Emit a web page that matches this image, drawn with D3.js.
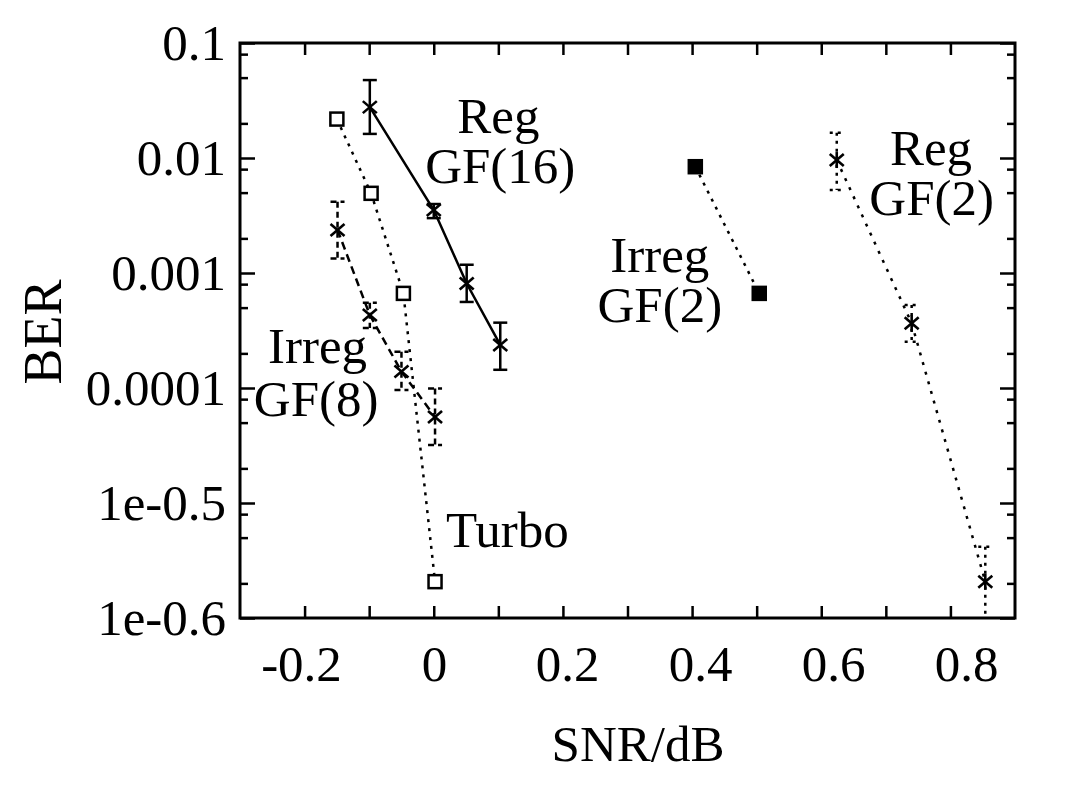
<!DOCTYPE html>
<html>
<head>
<meta charset="utf-8"/>
<title>BER vs SNR</title>
<script src="https://cdn.jsdelivr.net/npm/d3@7"></script>
<style>
body { margin: 0; background: #fff; }
text { font-family: "Liberation Serif", "Times New Roman", serif; fill: #000; }
.frame { fill: none; stroke: #000; stroke-width: 3; }
.tick line { stroke: #000; stroke-width: 2.5; }
.domain { display: none; }
.lbl text { font-size: 51px; }
</style>
</head>
<body>
<script>
// axis ticks and labels as printed on the figure
var xLabelTicks = [-0.2, 0, 0.2, 0.4, 0.6, 0.8];
var yTicks = [0.1, 0.01, 0.001, 0.0001, 1e-5, 1e-6];
var yTickLabels = ["0.1", "0.01", "0.001", "0.0001", "1e-0.5", "1e-0.6"];

// Reg GF(16)
var snrReg16 = [-0.099, 0, 0.051, 0.103];
var berReg16 = [0.0277, 0.00353, 0.00081, 0.000237];
var hiReg16 = [0.0476, 0.00398, 0.00118, 0.00037];
var loReg16 = [0.0162, 0.0030, 0.00056, 0.000144];

// Turbo
var snrTurbo = [-0.15, -0.097, -0.047, 0.002];
var berTurbo = [0.0218, 0.00493, 0.000665, 2.07e-6];

// Irreg GF(8)
var snrIrr8 = [-0.149, -0.099, -0.05, 0.002];
var berIrr8 = [0.00237, 0.000431, 0.000139, 5.6e-5];
var hiIrr8 = [0.00417, 0.00055, 0.000207, 9.9e-5];
var loIrr8 = [0.00134, 0.000333, 9.6e-5, 3.19e-5];

// Irreg GF(2)
var snrIrr2 = [0.405, 0.504];
var berIrr2 = [0.0084, 0.000665];

// Reg GF(2)
var snrReg2 = [0.624, 0.740, 0.854];
var berReg2 = [0.0096, 0.000365, 2.07e-6];
var hiReg2 = [0.0166, 0.000527, 4.17e-6];
var loReg2 = [0.00527, 0.000253, 5e-7];

// annotations
var notes = [
	{t: "Reg", x: 0.1, y: 0.0165},
	{t: "GF(16)", x: 0.103, y: 0.00607},
	{t: "Irreg", x: -0.18, y: 0.000165},
	{t: "GF(8)", x: -0.182, y: 0.0000571},
	{t: "Turbo", x: 0.114, y: 0.00000414},
	{t: "Irreg", x: 0.35, y: 0.00102},
	{t: "GF(2)", x: 0.35, y: 0.000375},
	{t: "Reg", x: 0.77, y: 0.00869},
	{t: "GF(2)", x: 0.771, y: 0.00319}
];

function pts(sx, sy, hi, lo) {
	return sx.map(function(d, i) {
		return {x: d, y: sy[i], hi: hi ? hi[i] : null, lo: lo ? lo[i] : null};
	});
}

var series = [
	{data: pts(snrReg16, berReg16, hiReg16, loReg16), dash: null, mark: "x", errDash: null},
	{data: pts(snrTurbo, berTurbo), dash: "3,6", mark: "square"},
	{data: pts(snrIrr8, berIrr8, hiIrr8, loIrr8), dash: "8,5", mark: "x", errDash: "6,4"},
	{data: pts(snrIrr2, berIrr2), dash: "3,6", mark: "filled"},
	{data: pts(snrReg2, berReg2, hiReg2, loReg2), dash: "3,7", mark: "star", errDash: "3,5"}
];

var W = 1071, H = 788;
var pL = 240, pR = 1015, pT = 43, pB = 618;

var svg = d3.select("body").append("svg")
	.attr("width", W)
	.attr("height", H);

var x = d3.scaleLinear().domain([-0.3, 0.9]).range([pL, pR]);
var y = d3.scaleLog().domain([1e-6, 0.1]).range([pB, pT]);
// the printed numbers sit a little to the right of their ticks
var xLab = d3.scaleLinear().domain([-0.2, 0.8]).range([301, 966]);

var xMinor = d3.range(-2, 9).map(function(i) { return i / 10; });
var yMinor = [];
yTicks.slice(0, -1).forEach(function(t) {
	[0.8, 0.5, 0.2].forEach(function(m) { yMinor.push(t * m); });
});

// ticks on all four sides, pointing inwards
svg.append("g").attr("transform", "translate(0," + pB + ")")
	.call(d3.axisBottom(x).tickValues(xMinor).tickSize(-12).tickFormat(""));
svg.append("g").attr("transform", "translate(0," + pT + ")")
	.call(d3.axisTop(x).tickValues(xMinor).tickSize(-12).tickFormat(""));
svg.append("g").attr("transform", "translate(" + pL + ",0)")
	.call(d3.axisLeft(y).tickValues(yTicks).tickSize(-15).tickFormat(""));
svg.append("g").attr("transform", "translate(" + pL + ",0)")
	.call(d3.axisLeft(y).tickValues(yMinor).tickSize(-8).tickFormat(""));
svg.append("g").attr("transform", "translate(" + pR + ",0)")
	.call(d3.axisRight(y).tickValues(yTicks).tickSize(-15).tickFormat(""));
svg.append("g").attr("transform", "translate(" + pR + ",0)")
	.call(d3.axisRight(y).tickValues(yMinor).tickSize(-8).tickFormat(""));

// tick labels
svg.append("g").attr("class", "lbl")
	.attr("transform", "translate(0," + pB + ")")
	.call(d3.axisBottom(xLab).tickValues(xLabelTicks).tickSize(0).tickPadding(27)
		.tickFormat(function(d) { return d === 0 ? "0" : String(d); }));
svg.append("g").attr("class", "lbl")
	.attr("transform", "translate(" + pL + ",0)")
	.call(d3.axisLeft(y).tickValues(yTicks).tickSize(0).tickPadding(14)
		.tickFormat(function(d, i) { return yTickLabels[i]; }));

svg.append("rect").attr("class", "frame")
	.attr("x", pL).attr("y", pT)
	.attr("width", pR - pL).attr("height", pB - pT);

// axis titles
svg.append("text")
	.attr("transform", "translate(61,332) rotate(-90)")
	.attr("text-anchor", "middle")
	.style("font-size", "54px")
	.text("BER");
svg.append("text")
	.attr("x", 638).attr("y", 761)
	.attr("text-anchor", "middle")
	.style("font-size", "51px")
	.text("SNR/dB");

svg.append("clipPath").attr("id", "plot")
	.append("rect").attr("x", pL).attr("y", pT)
	.attr("width", pR - pL).attr("height", pB - pT);

var plot = svg.append("g").attr("clip-path", "url(#plot)");

var line = d3.line()
	.x(function(d) { return x(d.x); })
	.y(function(d) { return y(d.y); });

series.forEach(function(s) {
	var g = plot.append("g");

	g.append("path")
		.datum(s.data)
		.attr("d", line)
		.attr("fill", "none")
		.attr("stroke", "#000")
		.attr("stroke-width", 2.5)
		.attr("stroke-dasharray", s.dash);

	// error bars
	var eb = s.data.filter(function(d) { return d.hi !== null; });
	var e = g.selectAll("g.err").data(eb).enter().append("g")
		.attr("stroke", "#000")
		.attr("stroke-width", 2.5)
		.attr("stroke-dasharray", s.errDash);
	e.append("line")
		.attr("x1", function(d) { return x(d.x); })
		.attr("x2", function(d) { return x(d.x); })
		.attr("y1", function(d) { return y(d.hi); })
		.attr("y2", function(d) { return y(d.lo); });
	e.append("line")
		.attr("x1", function(d) { return x(d.x) - 7; })
		.attr("x2", function(d) { return x(d.x) + 7; })
		.attr("y1", function(d) { return y(d.hi); })
		.attr("y2", function(d) { return y(d.hi); });
	e.append("line")
		.attr("x1", function(d) { return x(d.x) - 7; })
		.attr("x2", function(d) { return x(d.x) + 7; })
		.attr("y1", function(d) { return y(d.lo); })
		.attr("y2", function(d) { return y(d.lo); });

	// point markers
	var m = g.selectAll("g.mark").data(s.data).enter().append("g")
		.attr("transform", function(d) { return "translate(" + x(d.x) + "," + y(d.y) + ")"; });
	if (s.mark === "square" || s.mark === "filled") {
		m.append("rect")
			.attr("x", -6.5).attr("y", -6.5)
			.attr("width", 13).attr("height", 13)
			.attr("fill", s.mark === "filled" ? "#000" : "#fff")
			.attr("stroke", "#000")
			.attr("stroke-width", 2.5);
	} else {
		var arms = [[-7, -6, 7, 6], [-7, 6, 7, -6]];
		if (s.mark === "star") arms.push([0, -8, 0, 8]);
		arms.forEach(function(a) {
			m.append("line")
				.attr("x1", a[0]).attr("y1", a[1])
				.attr("x2", a[2]).attr("y2", a[3])
				.attr("stroke", "#000")
				.attr("stroke-width", 2.6);
		});
	}
});

// series names
svg.selectAll("text.note")
	.data(notes)
	.enter().append("text")
	.attr("class", "note")
	.attr("x", function(d) { return x(d.x); })
	.attr("y", function(d) { return y(d.y); })
	.attr("text-anchor", "middle")
	.style("font-size", "51px")
	.text(function(d) { return d.t; });

</script>
</body>
</html>
